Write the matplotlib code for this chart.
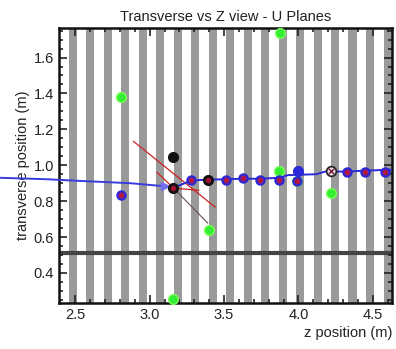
import numpy as np
import matplotlib
matplotlib.use('Agg')
import matplotlib.pyplot as plt
from matplotlib.ticker import MultipleLocator

plt.rcParams['font.family'] = ['Liberation Sans', 'DejaVu Sans']

# gray plane bands (left edge in z, m)
band_z = [2.455, 2.573, 2.690, 2.808, 2.926, 3.043, 3.161, 3.278, 3.396, 3.514,
          3.631, 3.749, 3.867, 3.984, 4.102, 4.220, 4.337, 4.455, 4.573]
band_w = 0.055
wall_y = 0.513

# incoming track (drawn outside axes too)
trk1_z = [2.00, 2.31, 2.55, 2.87, 3.10]
trk1_y = [0.930, 0.922, 0.912, 0.900, 0.883]

# outgoing track
trk2_z = [3.16, 3.28, 3.40, 3.51, 3.63, 3.74, 3.87, 3.93, 4.12, 4.18, 4.33, 4.45, 4.62]
trk2_y = [0.875, 0.915, 0.920, 0.922, 0.925, 0.925, 0.930, 0.945, 0.950, 0.965, 0.965, 0.970, 0.975]

# green hits
green_z = [2.81, 3.876, 3.40, 3.16, 3.87, 3.99, 4.22]
green_y = [1.38, 1.735, 0.64, 0.257, 0.967, 0.915, 0.846]

# blue hits with red core
blue_z = [2.807, 3.277, 3.51, 3.63, 3.74, 3.87, 3.99, 4.33, 4.45, 4.58]
blue_y = [0.837, 0.917, 0.920, 0.930, 0.920, 0.920, 0.915, 0.960, 0.960, 0.963]
blue_solo_z = [3.995]
blue_solo_y = [0.967]

# black hits
black_z = [3.16, 3.16, 3.395]
black_y = [1.048, 0.873, 0.920]
open_z = [4.22]
open_y = [0.967]

# shower lines from the vertex
red_lines = [([2.891, 3.44], [1.133, 0.767]),
             ([3.05, 3.16], [0.96, 0.873]),
             ([3.16, 3.33], [0.873, 0.86])]
gray_lines = [([3.16, 3.39], [0.873, 0.678])]

fig = plt.figure(figsize=(3.96, 3.49), dpi=100)
ax = fig.add_axes([0.149, 0.132, 0.841, 0.788])

for z in band_z:
    ax.axvspan(z, z + band_w, color='#9a9a9a', lw=0, zorder=0)
ax.axhline(wall_y, color='#444444', lw=3, zorder=1)

for xs, ys in red_lines:
    ax.plot(xs, ys, color='#cc2222', lw=0.9, zorder=2)
for xs, ys in gray_lines:
    ax.plot(xs, ys, color='#6a5050', lw=0.8, zorder=2)

ax.plot(trk1_z, trk1_y, color='#3a3ae0', lw=1.4, zorder=3, clip_on=False)
ax.plot([trk1_z[-1]], [trk1_y[-1]], marker='>', ms=6, color='#7070f0', zorder=3)
ax.plot(trk2_z, trk2_y, color='#2a2ad8', lw=1.4, zorder=3)

ax.plot(green_z, green_y, 'o', ms=7, color='#33ee33', mec='#77ff55', zorder=4, clip_on=False)
ax.plot(blue_z, blue_y, 'o', ms=6.5, color='#2828d8', zorder=5)
ax.plot(blue_z, blue_y, 'o', ms=3.2, color='#b01848', zorder=6)
ax.plot(blue_solo_z, blue_solo_y, 'o', ms=7, color='#2828d8', zorder=5)
ax.plot(black_z, black_y, 'o', ms=7, color='#111111', zorder=5)
ax.plot(black_z[1:], black_y[1:], 'o', ms=3, color='#a01030', zorder=6)
ax.plot(open_z, open_y, 'o', ms=7, mfc='#dddddd', mec='#222222', mew=1.2, zorder=5)
ax.plot(open_z, open_y, 'x', ms=4, color='#802040', zorder=6)

ax.set_xlim(2.39, 4.63)
ax.set_ylim(0.233, 1.765)
ax.xaxis.set_major_locator(MultipleLocator(0.5))
ax.xaxis.set_minor_locator(MultipleLocator(0.1))
ax.yaxis.set_major_locator(MultipleLocator(0.2))
ax.yaxis.set_minor_locator(MultipleLocator(0.05))
ax.tick_params(which='both', direction='in', top=True, right=True, width=1.2,
               labelsize=10.5, colors='#222222')
ax.tick_params(which='major', length=6)
ax.tick_params(which='minor', length=3)
for s in ax.spines.values():
    s.set_linewidth(1.8)
    s.set_color('#111111')

ax.set_title('Transverse vs Z view - U Planes', fontsize=10.5, color='#222222', pad=5)
ax.set_ylabel('transverse position (m)', fontsize=10.5, color='#222222', labelpad=3)
ax.set_xlabel('z position (m)', fontsize=10.5, color='#222222', loc='right', labelpad=3)

fig.savefig('out.png', dpi=100)
